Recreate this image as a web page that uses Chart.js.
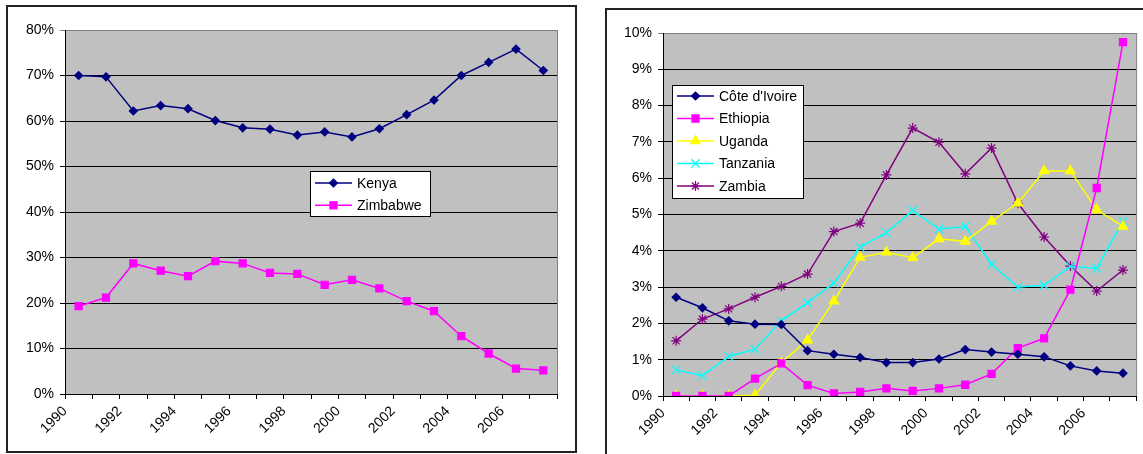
<!DOCTYPE html>
<html>
<head>
<meta charset="utf-8">
<title>Line charts 1990-2007</title>
<script src="https://cdn.jsdelivr.net/npm/chart.js@4.4.0/dist/chart.umd.min.js"></script>
<style>
    body { margin: 0; background: #fff; width: 1143px; height: 454px; overflow: hidden; position: relative; }
    .box { position: absolute; border: 2px solid #222; background: #fff; }
    #leftBox { left: 6px; top: 5px; width: 567px; height: 444px; }
    #rightBox { left: 605px; top: 8px; width: 545px; height: 460px; }
    canvas { display: block; }
</style>
</head>
<body>
<div class="box" id="leftBox"><canvas id="leftChart" width="567" height="444"></canvas></div>
<div class="box" id="rightBox"><canvas id="rightChart" width="545" height="460"></canvas></div>

<script>
// Categories (one per year) and tick labels
const years = ['1990', '1991', '1992', '1993', '1994', '1995', '1996', '1997', '1998',
    '1999', '2000', '2001', '2002', '2003', '2004', '2005', '2006', '2007'];

// Left chart series (%)
const kenya = [70.0, 69.7, 62.2, 63.4, 62.7, 60.1, 58.5, 58.2, 56.9, 57.6, 56.5, 58.3, 61.4, 64.6, 70.0, 72.9, 75.8, 71.1];
const zimbabwe = [19.3, 21.2, 28.7, 27.1, 25.9, 29.2, 28.7, 26.6, 26.4, 24.0, 25.1, 23.2, 20.4, 18.2, 12.7, 8.9, 5.6, 5.2];

// Right chart series (%)
const coteDivoire = [2.72, 2.43, 2.07, 1.98, 1.97, 1.25, 1.15, 1.06, 0.92, 0.92, 1.02, 1.28, 1.21, 1.15, 1.08, 0.83, 0.69, 0.63];
const ethiopia = [0, 0, 0, 0.48, 0.90, 0.30, 0.07, 0.11, 0.21, 0.14, 0.21, 0.31, 0.61, 1.32, 1.59, 2.93, 5.73, 9.75];
const uganda = [0, 0, 0, 0.02, 0.92, 1.54, 2.61, 3.82, 3.96, 3.81, 4.33, 4.26, 4.81, 5.31, 6.20, 6.20, 5.13, 4.67];
const tanzania = [0.72, 0.56, 1.09, 1.29, 2.07, 2.57, 3.11, 4.10, 4.50, 5.11, 4.60, 4.67, 3.63, 3.00, 3.05, 3.57, 3.52, 4.81];
const zambia = [1.52, 2.12, 2.40, 2.72, 3.02, 3.36, 4.53, 4.76, 6.09, 7.38, 6.99, 6.12, 6.83, 5.31, 4.38, 3.58, 2.89, 3.47];

const FONT = { family: 'Arial, "Liberation Sans", sans-serif', size: 14 };

// points sit in the middle of each year slot
function toPoints(values) {
    return values.map((v, i) => ({ x: i + 0.5, y: v }));
}

function series(label, values, color, style, radius) {
    return {
        label: label,
        data: toPoints(values),
        borderColor: color,
        backgroundColor: color,
        borderWidth: 1.5,
        pointStyle: style,
        pointRadius: radius,
        pointBackgroundColor: color,
        pointBorderColor: color,
        pointBorderWidth: 1.2,
        tension: 0
    };
}

// grey plot area behind the lines
const plotBackground = {
    id: 'plotBackground',
    beforeDraw(chart) {
        const a = chart.chartArea;
        const ctx = chart.ctx;
        ctx.save();
        ctx.fillStyle = '#C0C0C0';
        ctx.fillRect(a.left, a.top, a.right - a.left, a.bottom - a.top);
        ctx.strokeStyle = '#808080';
        ctx.lineWidth = 1;
        ctx.strokeRect(a.left + 0.5, a.top + 0.5, a.right - a.left, a.bottom - a.top);
        ctx.restore();
    }
};

// Excel-like legend box drawn inside the plot
const boxLegend = {
    id: 'boxLegend',
    afterDraw(chart, args, opts) {
        const ctx = chart.ctx;
        ctx.save();
        ctx.fillStyle = '#fff';
        ctx.fillRect(opts.x, opts.y, opts.width, opts.height);
        ctx.strokeStyle = '#000';
        ctx.lineWidth = 1;
        ctx.strokeRect(opts.x + 0.5, opts.y + 0.5, opts.width, opts.height);

        chart.data.datasets.forEach((ds, i) => {
            const cy = opts.y + opts.firstRow + i * opts.rowHeight;
            const x0 = opts.x + 5;
            ctx.strokeStyle = ds.borderColor;
            ctx.lineWidth = ds.borderWidth;
            ctx.beginPath();
            ctx.moveTo(x0, cy);
            ctx.lineTo(x0 + opts.lineLength, cy);
            ctx.stroke();

            ctx.fillStyle = ds.pointBackgroundColor;
            ctx.strokeStyle = ds.pointBorderColor;
            ctx.lineWidth = ds.pointBorderWidth;
            Chart.helpers.drawPoint(ctx, {
                pointStyle: ds.pointStyle,
                radius: ds.pointRadius,
                borderWidth: ds.pointBorderWidth,
                rotation: 0
            }, x0 + opts.lineLength / 2, cy);

            ctx.fillStyle = '#000';
            ctx.font = FONT.size + 'px ' + FONT.family;
            ctx.textAlign = 'left';
            ctx.textBaseline = 'middle';
            ctx.fillText(ds.label, opts.x + opts.textOffset, cy + 1);
        });
        ctx.restore();
    }
};

function makeChart(canvasId, datasets, yMax, yStep, layout, legend) {
    const ctx = document.getElementById(canvasId).getContext('2d');
    return new Chart(ctx, {
        type: 'line',
        data: { datasets: datasets },
        options: {
            responsive: false,
            animation: false,
            devicePixelRatio: 1,
            layout: { padding: layout.padding },
            plugins: {
                legend: { display: false },
                tooltip: { enabled: false },
                boxLegend: legend
            },
            scales: {
                x: {
                    type: 'linear',
                    min: 0,
                    max: years.length,
                    afterFit: function (scale) { scale.height = layout.xHeight; },
                    border: { display: true, color: '#000', width: 1 },
                    grid: {
                        drawOnChartArea: false,
                        drawTicks: true,
                        tickLength: 5,
                        color: '#000'
                    },
                    ticks: {
                        stepSize: 1,
                        maxTicksLimit: 40,
                        autoSkip: false,
                        minRotation: 45,
                        maxRotation: 45,
                        padding: 4,
                        color: '#000',
                        font: FONT,
                        callback: function (value) {
                            return (value % 2 === 0 && value < years.length) ? years[value] : '';
                        }
                    }
                },
                y: {
                    min: 0,
                    max: yMax,
                    afterFit: function (scale) { scale.width = layout.yWidth; },
                    border: { display: true, color: '#000', width: 1 },
                    grid: {
                        drawTicks: true,
                        tickLength: 5,
                        color: function (c) {
                            return (c.tick && c.tick.value >= yMax) ? '#808080' : '#000';
                        }
                    },
                    ticks: {
                        stepSize: yStep,
                        padding: 6,
                        color: '#000',
                        font: FONT,
                        callback: function (value) { return value + '%'; }
                    }
                }
            }
        },
        plugins: [plotBackground, boxLegend]
    });
}

makeChart('leftChart', [
    series('Kenya', kenya, '#000080', 'rectRot', 4),
    series('Zimbabwe', zimbabwe, '#FF00FF', 'rect', 5)
], 80, 10,
    { padding: { top: 23, right: 18, left: 0, bottom: 0 }, yWidth: 57, xHeight: 57 },
    { x: 302, y: 164, width: 120, height: 45, firstRow: 12, rowHeight: 22.3, lineLength: 37, textOffset: 47 });

makeChart('rightChart', [
    series("Côte d'Ivoire", coteDivoire, '#000080', 'rectRot', 4),
    series('Ethiopia', ethiopia, '#FF00FF', 'rect', 5),
    series('Uganda', uganda, '#FFFF00', 'triangle', 5.5),
    series('Tanzania', tanzania, '#00FFFF', 'crossRot', 6),
    series('Zambia', zambia, '#800080', 'star', 5)
], 10, 1,
    { padding: { top: 23, right: 10, left: 0, bottom: 0 }, yWidth: 56, xHeight: 74 },
    { x: 65, y: 75, width: 131, height: 113, firstRow: 11, rowHeight: 22.5, lineLength: 37, textOffset: 47 });
</script>
</body>
</html>
